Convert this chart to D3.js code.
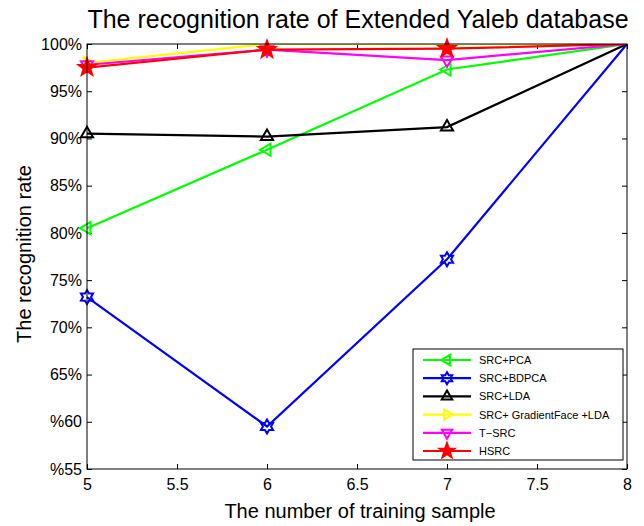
<!DOCTYPE html>
<html>
<head>
<meta charset="utf-8">
<script src="https://cdn.jsdelivr.net/npm/d3@7"></script>
<style>
  body { margin: 0; background: #fff; }
  svg text { font-family: "Liberation Sans", Arial, sans-serif; fill: #000; }
</style>
</head>
<body>
<div id="cont"></div>
<script>
// data
var samples = [5, 6, 7, 8];
var seriesNames = ["SRC+PCA", "SRC+BDPCA", "SRC+LDA", "SRC+ GradientFace +LDA", "T\u2212SRC", "HSRC"];
var srcPca = [80.5, 88.8, 97.3, 100];
var srcBdpca = [73.2, 59.5, 77.2, 100];
var srcLda = [90.5, 90.2, 91.2, 100];
var srcGradLda = [98.0, 100, 100, 100];
var tSrc = [97.8, 99.4, 98.3, 100];
var hsrc = [97.5, 99.4, 99.5, 100];
var xTicks = [5, 5.5, 6, 6.5, 7, 7.5, 8];
var yTicks = [55, 60, 65, 70, 75, 80, 85, 90, 95, 100];
var yTickLabels = ["%55", "%60", "65%", "70%", "75%", "80%", "85%", "90%", "95%", "100%"];

var colors = ["#00ff00", "#0000ff", "#000000", "#ffff00", "#ff00ff", "#ff0000"];
var markers = ["left", "hexagram", "up", "right", "down", "star"];
var allValues = [srcPca, srcBdpca, srcLda, srcGradLda, tSrc, hsrc];

var W = 644, H = 526;
var plotL = 87, plotR = 627, plotT = 44, plotB = 469;

var svg = d3.select("#cont").append("svg")
  .attr("width", W).attr("height", H);

var x = d3.scaleLinear().domain([5, 8]).range([plotL, plotR]);
var y = d3.scaleLinear().domain([55, 100]).range([plotB, plotT]);

// clip top/bottom only, for the lines and for marks sitting on the top edge
svg.append("clipPath").attr("id", "clip")
  .append("rect")
  .attr("x", 0).attr("y", plotT)
  .attr("width", W).attr("height", plotB - plotT);

// axes with inward ticks, boxed like matlab
svg.append("g")
  .attr("transform", "translate(0," + plotB + ")")
  .call(d3.axisBottom(x).tickValues(xTicks).tickSize(-5).tickPadding(10)
    .tickFormat(function(d) { return d; }))
  .call(function(g) { g.select(".domain").remove(); })
  .selectAll("text").style("font-size", "16px");

svg.append("g")
  .attr("transform", "translate(0," + plotT + ")")
  .call(d3.axisTop(x).tickValues(xTicks).tickSize(-5).tickFormat(""))
  .call(function(g) { g.select(".domain").remove(); });

svg.append("g")
  .attr("transform", "translate(" + plotL + ",0)")
  .call(d3.axisLeft(y).tickValues(yTicks).tickSize(-5).tickPadding(5)
    .tickFormat(function(d, i) { return yTickLabels[i]; }))
  .call(function(g) { g.select(".domain").remove(); })
  .selectAll("text").style("font-size", "16px");

svg.append("g")
  .attr("transform", "translate(" + plotR + ",0)")
  .call(d3.axisRight(y).tickValues(yTicks).tickSize(-5).tickFormat(""))
  .call(function(g) { g.select(".domain").remove(); });

svg.selectAll(".tick line").attr("stroke", "#000");

// marker shapes
function markerPath(type, s) {
  var p = [];
  if (type == "up") p = [[0, -s], [s * 0.87, s * 0.5], [-s * 0.87, s * 0.5]];
  if (type == "down") p = [[0, s], [s * 0.87, -s * 0.5], [-s * 0.87, -s * 0.5]];
  if (type == "left") p = [[-s, 0], [s * 0.5, -s * 0.87], [s * 0.5, s * 0.87]];
  if (type == "right") p = [[s, 0], [-s * 0.5, -s * 0.87], [-s * 0.5, s * 0.87]];
  if (type == "star") {
    for (var i = 0; i < 10; i++) {
      var r = i % 2 == 0 ? s * 1.1 : s * 0.45;
      var a = -Math.PI / 2 + i * Math.PI / 5;
      p.push([r * Math.cos(a), r * Math.sin(a)]);
    }
  }
  if (type == "hexagram") {
    for (var i = 0; i < 12; i++) {
      var r = i % 2 == 0 ? s : s * 0.58;
      var a = -Math.PI / 2 + i * Math.PI / 6;
      p.push([r * Math.cos(a), r * Math.sin(a)]);
    }
  }
  return "M" + p.map(function(d) { return d[0].toFixed(2) + "," + d[1].toFixed(2); }).join("L") + "Z";
}

function drawMarker(g, type, color, cx, cy, s) {
  var filled = (type == "star");
  return g.append("path")
    .attr("d", markerPath(type, s))
    .attr("transform", "translate(" + cx + "," + cy + ")")
    .attr("fill", filled ? color : "none")
    .attr("stroke", color)
    .attr("stroke-width", 2);
}

var line = d3.line()
  .x(function(d, i) { return x(samples[i]); })
  .y(function(d) { return y(d); });

var plot = svg.append("g");
allValues.forEach(function(vals, k) {
  plot.append("path")
    .datum(vals)
    .attr("d", line)
    .attr("clip-path", "url(#clip)")
    .attr("fill", "none")
    .attr("stroke", colors[k])
    .attr("stroke-width", 2.2);
  vals.forEach(function(v, i) {
    if (i < 3) {
      var m = drawMarker(plot, markers[k], colors[k], x(samples[i]), y(v), markers[k] == "star" ? 8 : 7);
      if (v >= 100) m.attr("clip-path", "url(#clip)");
    }
  });
});

svg.append("rect")
  .attr("x", plotL).attr("y", plotT)
  .attr("width", plotR - plotL).attr("height", plotB - plotT)
  .attr("fill", "none").attr("stroke", "#000").attr("stroke-width", 1);

// legend
var lg = svg.append("g").attr("transform", "translate(413,349)");
lg.append("rect")
  .attr("width", 210).attr("height", 111)
  .attr("fill", "#fff").attr("stroke", "#000");
seriesNames.forEach(function(name, k) {
  var yy = 11 + k * 18.2;
  lg.append("line")
    .attr("x1", 10).attr("x2", 58).attr("y1", yy).attr("y2", yy)
    .attr("stroke", colors[k]).attr("stroke-width", 2.2);
  drawMarker(lg, markers[k], colors[k], 34, yy, markers[k] == "star" ? 7 : 6);
  lg.append("text")
    .attr("x", 66).attr("y", yy + 4)
    .style("font-size", "11px")
    .text(name);
});

// titles
svg.append("text")
  .attr("x", 358).attr("y", 28)
  .attr("text-anchor", "middle")
  .style("font-size", "25px")
  .text("The recognition rate of Extended Yaleb database");

svg.append("text")
  .attr("x", 360).attr("y", 518)
  .attr("text-anchor", "middle")
  .style("font-size", "20px")
  .text("The number of training sample");

svg.append("text")
  .attr("transform", "translate(31," + 254 + ") rotate(-90)")
  .attr("text-anchor", "middle")
  .style("font-size", "20px")
  .text("The recognition rate");
</script>
</body>
</html>
